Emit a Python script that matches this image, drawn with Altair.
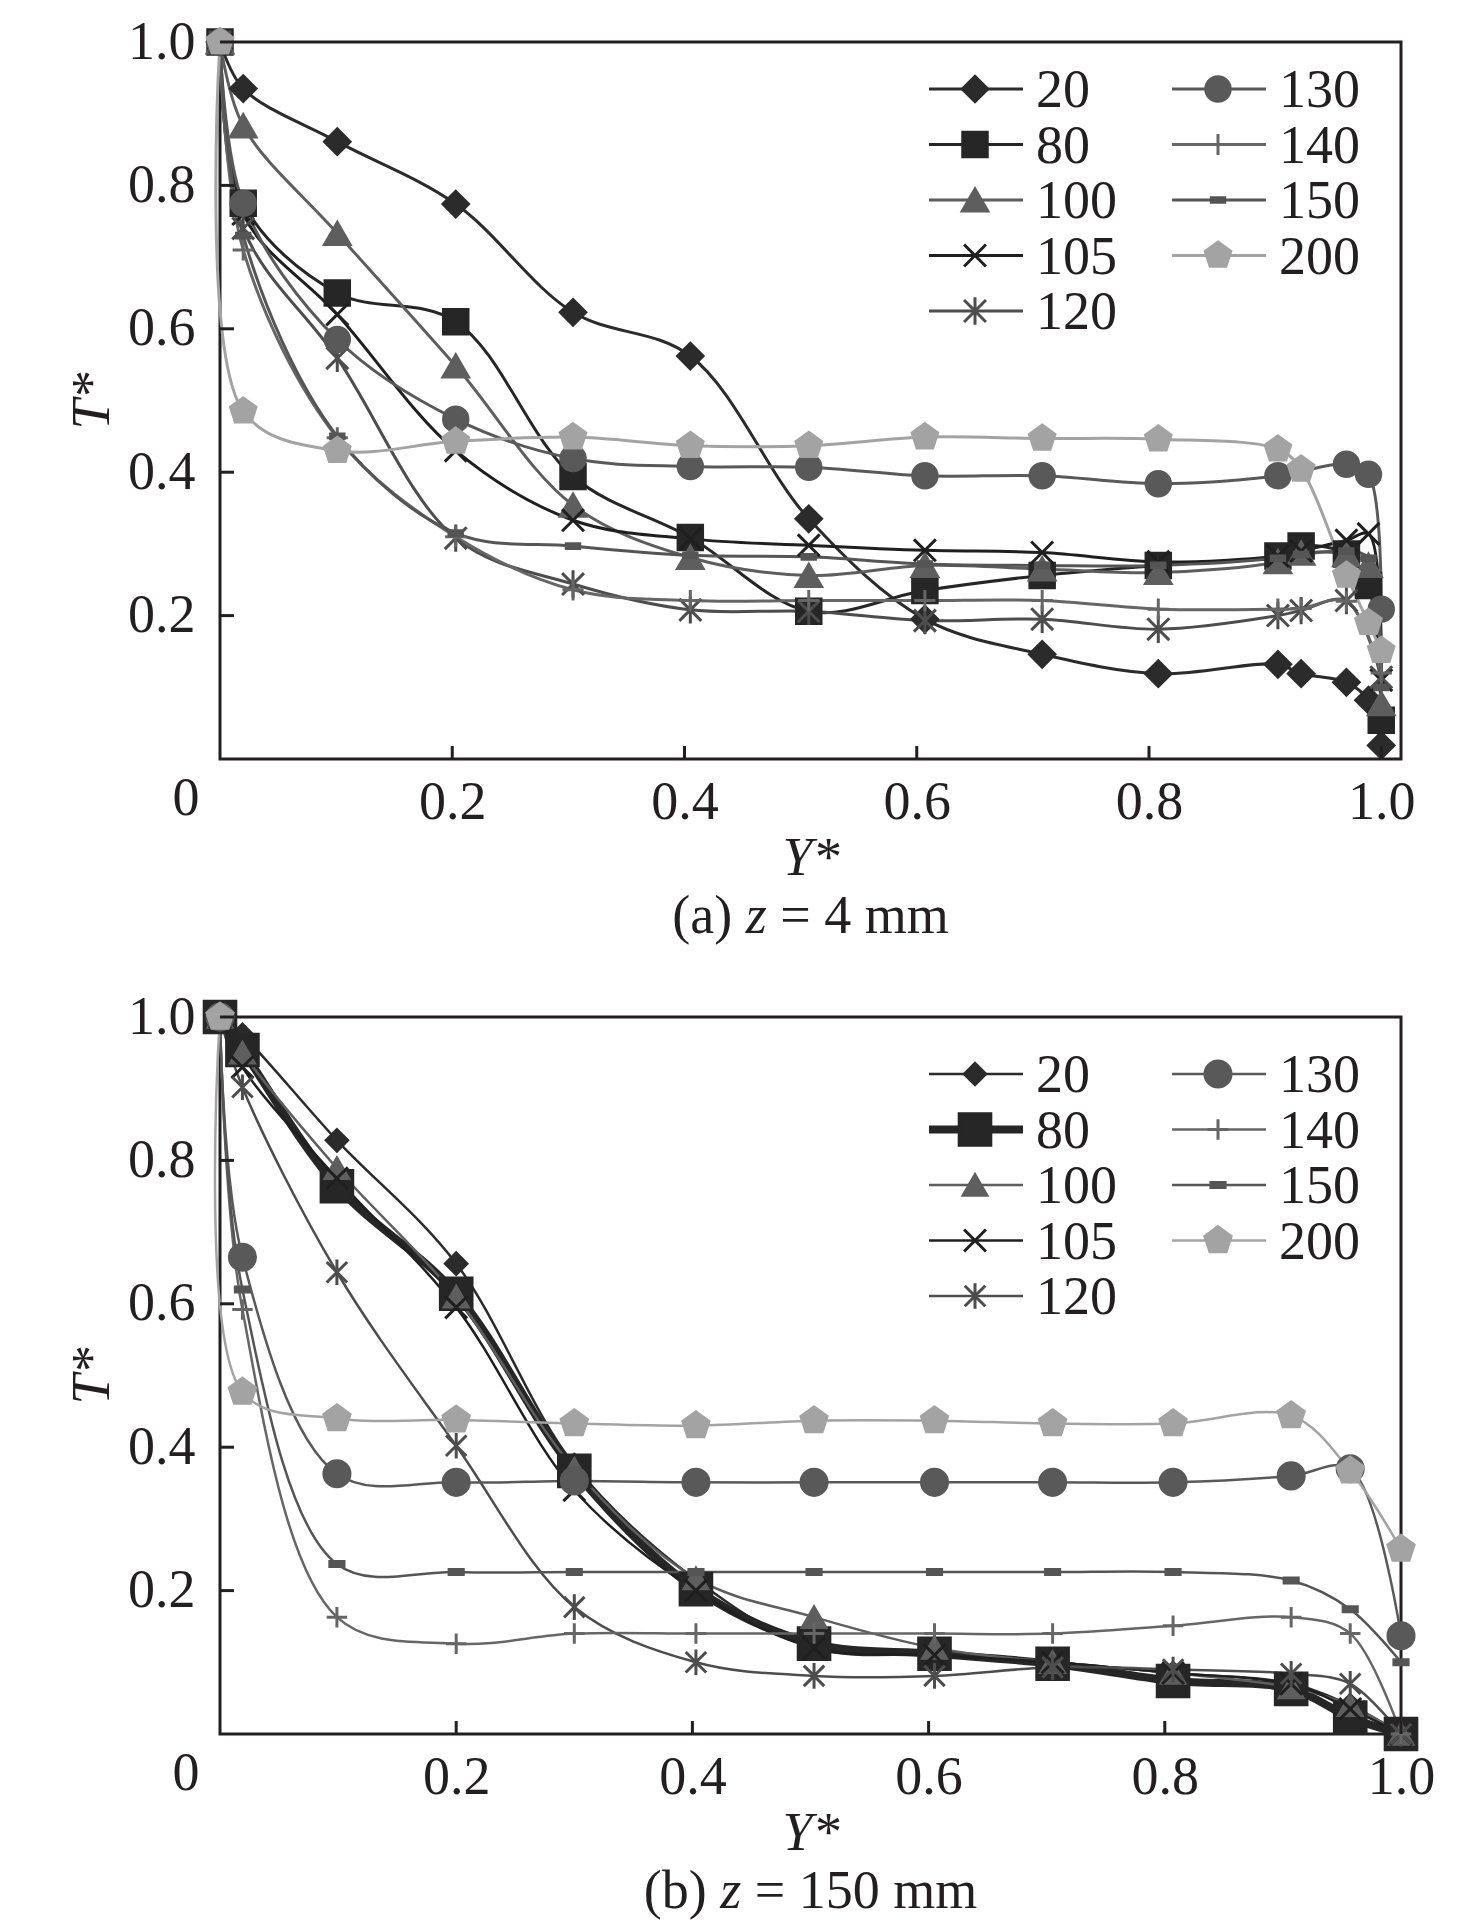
import altair as alt
import pandas as pd

INK = "#231f20"
FONT = "Liberation Serif"

SERIES = ["20", "80", "100", "105", "120", "130", "140", "150", "200"]

# (a) z = 4 mm : Y* positions and T* per series (None = no point)
YA = [0, 0.02, 0.101, 0.203, 0.304, 0.405, 0.507, 0.607, 0.708, 0.808, 0.911, 0.931, 0.970, 0.989, 1.0]
A20 = [1.0, 0.935, 0.861, 0.774, 0.623, 0.562, 0.335, 0.195, 0.146, 0.119, 0.132, 0.119, 0.107, 0.082, 0.019]
A80 = [1.0, 0.775, 0.650, 0.610, 0.394, 0.309, 0.206, 0.235, 0.256, 0.270, 0.283, 0.297, 0.286, 0.242, 0.054]
A100 = [1.0, 0.883, 0.733, 0.548, 0.354, 0.281, 0.256, 0.270, 0.265, 0.260, 0.275, 0.287, 0.285, 0.270, 0.077]
A105 = [1.0, 0.760, 0.620, 0.430, 0.333, 0.307, 0.298, 0.291, 0.288, 0.275, 0.283, 0.290, 0.305, 0.314, 0.110]
A120 = [1.0, 0.740, 0.559, 0.308, 0.244, 0.208, 0.206, 0.193, 0.195, 0.181, 0.200, 0.207, 0.221, None, 0.114]
A130 = [1.0, 0.775, 0.585, 0.474, 0.419, 0.408, 0.407, 0.395, 0.395, 0.384, 0.395, None, 0.411, 0.397, 0.209]
A140 = [1.0, 0.710, 0.448, 0.310, 0.236, 0.221, 0.221, 0.221, 0.221, 0.209, 0.209, 0.210, 0.220, None, 0.120]
A150 = [1.0, 0.730, 0.450, 0.315, 0.297, 0.284, 0.282, 0.272, 0.270, 0.270, 0.280, 0.285, 0.290, 0.280, 0.100]
A200 = [1.0, 0.485, 0.430, 0.443, 0.449, 0.437, 0.437, 0.449, 0.447, 0.446, 0.432, 0.404, 0.256, 0.190, 0.151]

# (b) z = 150 mm
YB = [0, 0.019, 0.099, 0.2, 0.3, 0.403, 0.503, 0.605, 0.705, 0.807, 0.907, 0.957, 1.0]
B20 = [1.0, 0.975, 0.828, 0.656, 0.375, 0.215, 0.120, 0.110, 0.100, 0.085, 0.070, 0.040, 0.0]
B80 = [1.0, 0.954, 0.764, 0.614, 0.367, 0.202, 0.126, 0.112, 0.098, 0.074, 0.063, 0.023, 0.0]
B100 = [1.0, 0.950, 0.789, 0.610, 0.370, 0.217, 0.163, 0.120, 0.100, 0.085, 0.065, 0.040, 0.0]
B105 = [1.0, 0.930, 0.775, 0.595, 0.340, 0.200, 0.120, 0.110, 0.100, 0.085, 0.070, 0.035, 0.0]
B120 = [1.0, 0.902, 0.644, 0.402, 0.177, 0.100, 0.081, 0.081, 0.093, 0.090, 0.084, 0.070, 0.0]
B130 = [1.0, 0.665, 0.363, 0.351, 0.353, 0.351, 0.351, 0.351, 0.351, 0.351, 0.360, 0.370, 0.137]
B140 = [1.0, 0.592, 0.163, 0.126, 0.140, 0.140, 0.140, 0.140, 0.140, 0.151, 0.163, 0.140, 0.0]
B150 = [1.0, 0.620, 0.237, 0.226, 0.226, 0.226, 0.226, 0.226, 0.226, 0.226, 0.214, 0.174, 0.100]
B200 = [1.0, 0.477, 0.440, 0.438, 0.433, 0.430, 0.437, 0.437, 0.433, 0.433, 0.444, 0.367, 0.258]

XTICKS = [0.2, 0.4, 0.6, 0.8, 1.0]
YTICKS = [0.2, 0.4, 0.6, 0.8, 1.0]

# styles
COLORS = ["#2b2b2b", "#262626", "#5e5e5e", "#1f1f1f", "#4d4d4d",
          "#595959", "#666666", "#555555", "#a3a3a3"]
X_PATH = "M-1,-1L1,1M-1,1L1,-1"
STAR_PATH = "M-1,-1L1,1M-1,1L1,-1M0,-1.25L0,1.25"
PLUS_PATH = "M-1,0L1,0M0,-1L0,1"
DASH_PATH = "M-1,-0.35L1,-0.35L1,0.35L-1,0.35Z"
PENT_PATH = "M0,-1L0.951,-0.309L0.588,0.809L-0.588,0.809L-0.951,-0.309Z"
SHAPES = ["diamond", "square", "triangle-up", X_PATH, STAR_PATH,
          "circle", PLUS_PATH, DASH_PATH, PENT_PATH]
SIZE_A = [650, 600, 650, 480, 480, 600, 450, 180, 720]
SIZE_B = [460, 1000, 560, 480, 420, 680, 420, 200, 760]
LW_A = [3, 3, 3, 3, 3, 3, 3, 3, 3]
LW_B = [2.5, 8, 2.5, 2.5, 2.5, 2.5, 2.5, 2.5, 2.5]

W, H = 1181, 717
FS = 54

# approximate Times advance widths (em) for caption placement
CHAR_W = {"(": 0.333, ")": 0.333, "a": 0.444, "b": 0.5, "z": 0.389,
          "=": 0.564, " ": 0.25, "m": 0.778}


def text_width(s):
    return sum(CHAR_W.get(c, 0.5) for c in s) * FS


def panel(xs, series_vals, xmax, sizes, widths, leg_top, tag, zval):
    x_scale = alt.Scale(domain=[0, xmax], nice=False, zero=False)
    y_scale = alt.Scale(domain=[0, 1], nice=False, zero=False)
    x_axis = alt.Axis(values=XTICKS, format=".1f", title="Y*", labelPadding=16,
                      titlePadding=2, titleFontStyle="italic",
                      labelFlush=False, labelOverlap=False)
    y_axis = alt.Axis(values=YTICKS, format=".1f", title="T*", labelPadding=25,
                      titlePadding=8, titleFontStyle="italic",
                      labelFlush=False, labelOverlap=False)

    rows = []
    for name, vals in zip(SERIES, series_vals):
        for x, t in zip(xs, vals):
            if t is not None:
                rows.append({"s": name, "y": x, "t": t})
    df = pd.DataFrame(rows)

    # legend laid out in two columns, column-major
    leg_rows = []
    for i, name in enumerate(SERIES):
        col, row = (0, i) if i < 5 else (1, i - 5)
        x0 = 709 + col * 243
        py = leg_top + row * 55.5
        leg_rows.append({
            "s": name,
            "y": (x0 + 46) / W * xmax,
            "lx0": x0 / W * xmax,
            "lx1": (x0 + 94) / W * xmax,
            "lxt": (x0 + 107) / W * xmax,
            "t": 1 - py / H,
        })
    leg = pd.DataFrame(leg_rows)

    color = alt.Color("s:N", scale=alt.Scale(domain=SERIES, range=COLORS), legend=None)
    fill = alt.Fill("s:N", scale=alt.Scale(domain=SERIES, range=COLORS), legend=None)
    stroke = alt.Stroke("s:N", scale=alt.Scale(domain=SERIES, range=COLORS), legend=None)
    shape = alt.Shape("s:N", scale=alt.Scale(domain=SERIES, range=SHAPES), legend=None)
    size = alt.Size("s:N", scale=alt.Scale(type="ordinal", domain=SERIES, range=sizes), legend=None)
    lw = alt.StrokeWidth("s:N", scale=alt.Scale(type="ordinal", domain=SERIES, range=widths), legend=None)

    lines = alt.Chart(df).mark_line(interpolate="catmull-rom", strokeJoin="round").encode(
        x=alt.X("y:Q", scale=x_scale, axis=x_axis),
        y=alt.Y("t:Q", scale=y_scale, axis=y_axis),
        color=color, strokeWidth=lw,
    )
    points = alt.Chart(df).mark_point(filled=True, opacity=1, strokeWidth=3).encode(
        x=alt.X("y:Q", scale=x_scale, axis=x_axis),
        y=alt.Y("t:Q", scale=y_scale, axis=y_axis),
        fill=fill, stroke=stroke, shape=shape, size=size,
    )

    leg_lines = alt.Chart(leg).mark_rule().encode(
        x=alt.X("lx0:Q", scale=x_scale, axis=x_axis), x2="lx1:Q",
        y=alt.Y("t:Q", scale=y_scale, axis=y_axis),
        color=color, strokeWidth=lw,
    )
    leg_points = alt.Chart(leg).mark_point(filled=True, opacity=1, strokeWidth=3).encode(
        x=alt.X("y:Q", scale=x_scale, axis=x_axis),
        y=alt.Y("t:Q", scale=y_scale, axis=y_axis),
        fill=fill, stroke=stroke, shape=shape, size=size,
    )
    leg_text = alt.Chart(leg).mark_text(
        align="left", baseline="middle", font=FONT, fontSize=FS, color=INK, dy=2
    ).encode(
        x=alt.X("lxt:Q", scale=x_scale, axis=x_axis),
        y=alt.Y("t:Q", scale=y_scale, axis=y_axis),
        text="s:N",
    )

    # inward ticks
    xt = alt.Chart(pd.DataFrame({"v": XTICKS})).mark_rule(color=INK, strokeWidth=3).encode(
        x=alt.X("v:Q", scale=x_scale, axis=x_axis),
        y=alt.value(H), y2=alt.value(H - 13),
    )
    yt = alt.Chart(pd.DataFrame({"v": YTICKS})).mark_rule(color=INK, strokeWidth=3).encode(
        y=alt.Y("v:Q", scale=y_scale, axis=y_axis),
        x=alt.value(0), x2=alt.value(14),
    )
    zero = alt.Chart(pd.DataFrame({"v": [0], "lab": ["0"]})).mark_text(
        font=FONT, fontSize=FS, color=INK, dx=-34, dy=40, baseline="middle"
    ).encode(x=alt.X("v:Q", scale=x_scale, axis=x_axis), y=alt.value(H), text="lab:N")

    # caption "(a) z = 4 mm" with italic z
    pieces = [("(" + tag + ")", "normal"), ("z", "italic"), ("= " + zval + " mm", "normal")]
    gap = CHAR_W[" "] * FS
    total = sum(text_width(p) for p, _ in pieces) + gap * 2
    start = W / 2 - total / 2
    caps = []
    one = pd.DataFrame({"k": [0]})
    for p, style in pieces:
        caps.append(alt.Chart(one).mark_text(
            text=p, font=FONT, fontSize=FS, fontStyle=style, color=INK,
            align="left", baseline="alphabetic",
        ).encode(x=alt.value(start), y=alt.value(H + 174)))
        start += text_width(p) + gap

    return alt.layer(lines, points, leg_lines, leg_points, leg_text, xt, yt, zero, *caps).properties(
        width=W, height=H
    )


pa = panel(YA, [A20, A80, A100, A105, A120, A130, A140, A150, A200],
           1.017, SIZE_A, LW_A, 47, "a", "4")
pb = panel(YB, [B20, B80, B100, B105, B120, B130, B140, B150, B200],
           1.0, SIZE_B, LW_B, 57, "b", "150")

chart = (
    alt.vconcat(pa, pb, spacing=42)
    .resolve_scale(x="independent", y="independent", size="independent", strokeWidth="independent")
    .properties(padding={"left": 56, "top": 5, "right": 10, "bottom": 10})
    .configure_view(stroke=INK, strokeWidth=3)
    .configure_axis(
        labelFont=FONT, labelFontSize=FS, labelColor=INK,
        titleFont=FONT, titleFontSize=FS, titleColor=INK, titleFontWeight="normal",
        domain=False, ticks=False, grid=False,
    )
)

chart.save("out.html", embed_options={"renderer": "svg", "actions": False})
